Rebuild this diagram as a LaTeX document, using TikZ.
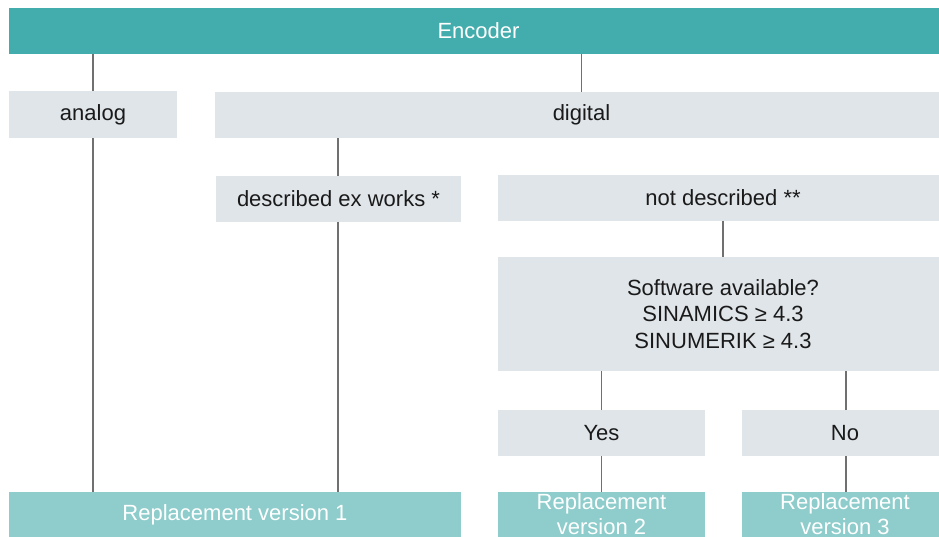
\documentclass[tikz,border=0pt]{standalone}
\usepackage{fontspec}
\setmainfont{Liberation Sans}
\definecolor{teal1}{HTML}{43ACAC}
\definecolor{teal2}{HTML}{8ECDCC}
\definecolor{gbg}{HTML}{E0E5E9}
\definecolor{lgray}{HTML}{707070}
\definecolor{txt}{HTML}{1A1A1A}
\begin{document}
\begin{tikzpicture}[x=1pt,y=-1pt,
  box/.style={rectangle, inner sep=0pt, outer sep=0pt, align=center,
    font=\fontsize{22}{26.5}\selectfont},
  gbox/.style={box, fill=gbg, text=txt},
  tbox/.style={box, fill=teal1, text=white},
  rbox/.style={box, fill=teal2, text=white, font=\fontsize{22}{25}\selectfont},
  conn/.style={draw=lgray, line width=1.3pt}]
\useasboundingbox (0,0) rectangle (939,537);
\clip (0,0) rectangle (939,537);
\node[tbox, minimum width=939pt, minimum height=46pt] (enc) at (478.5,31) {Encoder};
\node[gbox, minimum width=168pt, minimum height=47pt] (ana) at (93,114.5) {analog};
\node[gbox, minimum width=733pt, minimum height=46pt] (dig) at (581.5,115) {digital};
\node[gbox, minimum width=245pt, minimum height=46pt] (desc) at (338.5,199) {described ex works *};
\node[gbox, minimum width=450pt, minimum height=46pt] (notd) at (723,198) {not described **};
\node[gbox, minimum width=450pt, minimum height=114pt] (soft) at (723,314) {Software available?\\SINAMICS ≥ 4.3\\SINUMERIK ≥ 4.3};
\node[gbox, minimum width=207pt, minimum height=46pt] (yes) at (601.5,433) {Yes};
\node[gbox, minimum width=206pt, minimum height=46pt] (no) at (845,433) {No};
\node[rbox, minimum width=452pt, minimum height=46pt] (r1) at (235,515) {Replacement version 1};
\node[rbox, minimum width=207pt, minimum height=46pt] (r2) at (601.5,514.5) {Replacement\\version 2};
\node[rbox, minimum width=206pt, minimum height=46pt] (r3) at (845,514.5) {Replacement\\version 3};
\draw[conn] (ana.north) -- (ana.north |- enc.south);
\draw[conn] (dig.north) -- (dig.north |- enc.south);
\draw[conn] (ana.south) -- (ana.south |- r1.north);
\draw[conn] ([xshift=-0.5pt]desc.north) -- ([xshift=-0.5pt]desc.north |- dig.south);
\draw[conn] ([xshift=-0.5pt]desc.south) -- ([xshift=-0.5pt]desc.south |- r1.north);
\draw[conn] (notd.south) -- (soft.north);
\draw[conn] (yes.north) -- (yes.north |- soft.south);
\draw[conn] ([xshift=1pt]no.north) -- ([xshift=1pt]no.north |- soft.south);
\draw[conn] (yes.south) -- (yes.south |- r2.north);
\draw[conn] ([xshift=1pt]no.south) -- ([xshift=1pt]no.south |- r3.north);
\end{tikzpicture}
\end{document}
